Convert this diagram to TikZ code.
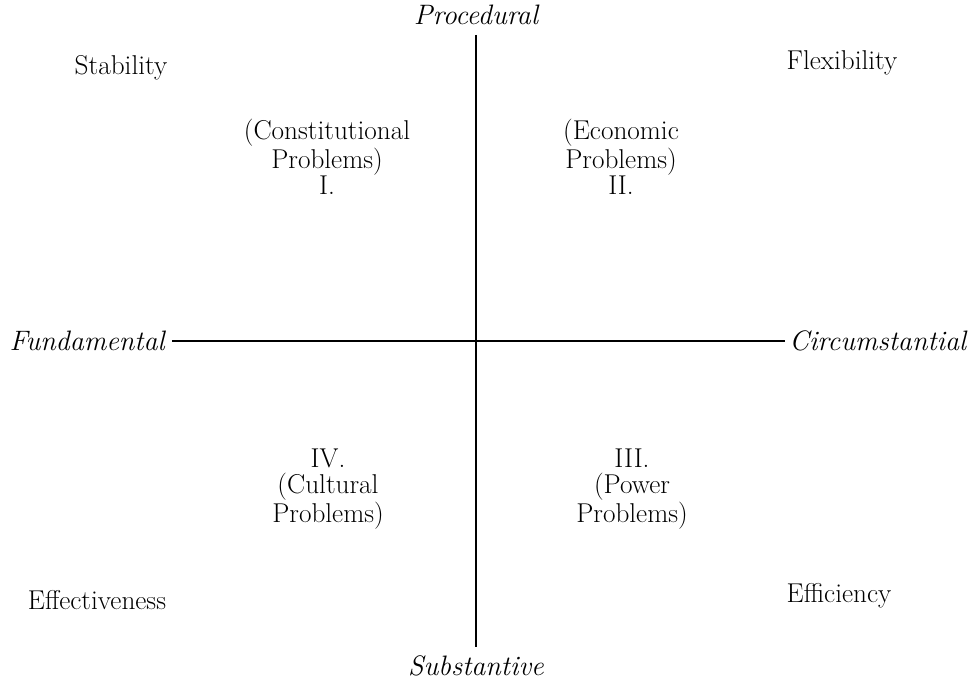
\documentclass[tikz,border=0pt]{standalone}
\usepackage{amsmath,amssymb}
\usepackage{tikz}
\usetikzlibrary{positioning,calc}
\tikzset{
  lbl/.style={font=\fontsize{15.5}{15}\selectfont, inner sep=0pt},
  axlbl/.style={font=\fontsize{16}{15}\selectfont\itshape, inner sep=0pt},
  quad/.style={font=\fontsize{15.5}{14.6}\selectfont, align=center, inner sep=0pt},
  axis/.style={line width=1.1pt}
}
\begin{document}
\begin{tikzpicture}[x=0.02cm,y=-0.02cm]
      \useasboundingbox (0,0) rectangle (973,678);

      \node[axlbl, anchor=south] (proc) at (476,25) {Procedural};
      \node[axlbl, anchor=north] (subst) at (476,655) {Substantive};
      \node[axlbl, anchor=east] (fund) at (165,341) {Fundamental};
      \node[axlbl, anchor=west] (circ) at (789,341) {Circumstantial};

      \node[lbl] (stab) at (121,68) {Stability};
      \node[lbl] (flex) at (842,63) {Flexibility};
      \node[lbl] (effect) at (97,600) {Effectiveness};
      \node[lbl] (effic) at (839,596) {Efficiency};

      \node[quad] (qI) at (327,157) {(Constitutional\\Problems)\\I.};
      \node[quad] (qII) at (621,157) {(Economic\\Problems)\\II.};
      \node[quad] (qIII) at (632,489) {III.\\(Power\\Problems)};
      \node[quad] (qIV) at (328,489) {IV.\\(Cultural\\Problems)};

      \draw[axis] ($(proc.south)+(0,10)$) -- ($(subst.north)+(0,-8)$);
      \draw[axis] ($(fund.east)+(7,0)$) -- ($(circ.west)+(-4,0)$);

    \end{tikzpicture}
\end{document}
